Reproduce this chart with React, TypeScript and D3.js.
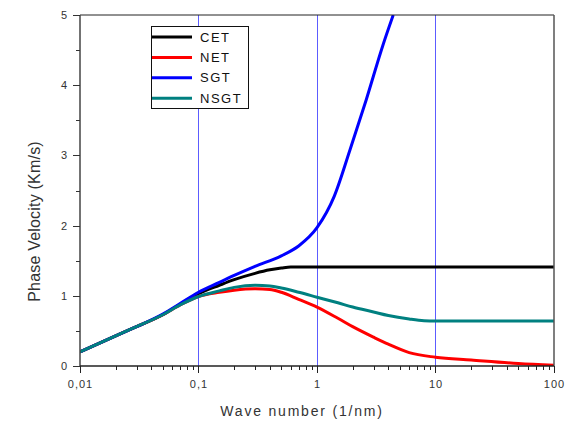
import React from "react";
import * as d3 from "d3";

// Dispersion curves: phase velocity (km/s) vs wave number (1/nm)
const seriesNames = ["CET", "NET", "SGT", "NSGT"];
const seriesColors = ["#000000", "#ff0000", "#0000ff", "#008080"];

const cet: [number, number][] = [
  [0.01, 0.2], [0.02, 0.43], [0.03, 0.56], [0.05, 0.73], [0.07, 0.88], [0.1, 1.03],
  [0.15, 1.15], [0.2, 1.23], [0.3, 1.32], [0.4, 1.37], [0.5, 1.395], [0.6, 1.41],
  [1, 1.41], [10, 1.41], [100, 1.41],
];
const net: [number, number][] = [
  [0.01, 0.2], [0.02, 0.43], [0.03, 0.56], [0.05, 0.73], [0.07, 0.87], [0.1, 0.99],
  [0.15, 1.05], [0.2, 1.08], [0.3, 1.1], [0.4, 1.09], [0.5, 1.05], [0.7, 0.95],
  [1, 0.84], [1.5, 0.68], [2, 0.56], [3, 0.41], [4, 0.31], [6, 0.19], [10, 0.125],
  [20, 0.085], [50, 0.035], [100, 0.01],
];
const sgt: [number, number][] = [
  [0.01, 0.2], [0.02, 0.43], [0.03, 0.56], [0.05, 0.74], [0.07, 0.89], [0.1, 1.05],
  [0.15, 1.19], [0.2, 1.29], [0.3, 1.42], [0.5, 1.57], [0.7, 1.71], [1, 1.97],
  [1.4, 2.42], [1.9, 3.08], [2.6, 3.79], [3.6, 4.57], [4.4, 5.0],
];
const nsgt: [number, number][] = [
  [0.01, 0.2], [0.02, 0.43], [0.03, 0.56], [0.05, 0.73], [0.07, 0.87], [0.1, 0.99],
  [0.15, 1.07], [0.2, 1.12], [0.3, 1.15], [0.4, 1.14], [0.5, 1.11], [0.7, 1.05],
  [1, 0.98], [1.5, 0.9], [2, 0.84], [3, 0.77], [4, 0.72], [6, 0.67], [8, 0.645],
  [10, 0.64], [100, 0.64],
];
const seriesData = [cet, net, sgt, nsgt];

const xTickValues = [0.01, 0.1, 1, 10, 100];
const xTickLabels = ["0,01", "0,1", "1", "10", "100"];
const yTickValues = [0, 1, 2, 3, 4, 5];
const gridValues = [0.1, 1, 10];

const W = 579;
const H = 421;
const left = 80;
const right = 554;
const top = 15;
const bottom = 366;

export default function App() {
  const x = d3.scaleLog().domain([0.01, 100]).range([left, right]);
  const y = d3.scaleLinear().domain([0, 5]).range([bottom, top]);
  const crisp = (v: number) => Math.round(v) + 0.5;

  const line = d3
    .line<[number, number]>()
    .x((d) => x(d[0]))
    .y((d) => y(d[1]))
    .curve(d3.curveMonotoneX);

  const minorX: number[] = [];
  for (let e = -2; e < 2; e++) {
    for (let m = 2; m <= 9; m++) minorX.push(m * Math.pow(10, e));
  }
  const minorY = d3.range(0.5, 5, 1);

  const font = "'Liberation Sans', Arial, sans-serif";

  return (
    <svg
      width={W}
      height={H}
      style={{ position: "absolute", left: 0, top: 0, background: "#fff" }}
      fontFamily={font}
    >
      <defs>
        <clipPath id="plot-clip">
          <rect x={left} y={top} width={right - left} height={bottom - top} />
        </clipPath>
      </defs>

      {/* vertical reference lines */}
      {gridValues.map((g) => (
        <line key={g} x1={crisp(x(g))} x2={crisp(x(g))} y1={top} y2={bottom} stroke="#5c5cff" strokeWidth={1} />
      ))}

      {/* curves */}
      <g clipPath="url(#plot-clip)">
        {seriesData.map((d, i) => (
          <path key={seriesNames[i]} d={line(d) || ""} fill="none" stroke={seriesColors[i]} strokeWidth={3} />
        ))}
      </g>

      {/* frame */}
      <line x1={left} x2={right} y1={top} y2={top} stroke="#222" strokeWidth={1} />
      <line x1={right} x2={right} y1={top} y2={bottom} stroke="#555" strokeWidth={1.5} />
      <line x1={left} x2={left} y1={top} y2={bottom + 0.5} stroke="#444" strokeWidth={1.5} />
      <line x1={left} x2={right} y1={bottom} y2={bottom} stroke="#222" strokeWidth={1.5} />

      {/* x ticks */}
      {xTickValues.map((v, i) => (
        <g key={v}>
          <line x1={crisp(x(v))} x2={crisp(x(v))} y1={bottom} y2={bottom + 7} stroke="#222" strokeWidth={1} />
          <text x={x(v) + 0.5} y={388} textAnchor="middle" fontSize={11} fill="#333" letterSpacing={1}>
            {xTickLabels[i]}
          </text>
        </g>
      ))}
      {minorX.map((v) => (
        <line key={v} x1={crisp(x(v))} x2={crisp(x(v))} y1={bottom} y2={bottom + 4} stroke="#222" strokeWidth={1} />
      ))}

      {/* y ticks */}
      {yTickValues.map((v) => (
        <g key={v}>
          <line x1={left - 7} x2={left} y1={crisp(y(v))} y2={crisp(y(v))} stroke="#333" strokeWidth={1} />
          <text x={67} y={y(v) + 4} textAnchor="end" fontSize={11} fill="#333">
            {v}
          </text>
        </g>
      ))}
      {minorY.map((v) => (
        <line key={v} x1={left - 4} x2={left} y1={crisp(y(v))} y2={crisp(y(v))} stroke="#333" strokeWidth={1} />
      ))}

      {/* axis titles */}
      <text x={302} y={416} textAnchor="middle" fontSize={14} fill="#333" letterSpacing={1.8}>
        Wave number (1/nm)
      </text>
      <text
        transform="translate(40, 221.5) rotate(-90)"
        textAnchor="middle"
        fontSize={16}
        fill="#333"
        letterSpacing={0.2}
      >
        Phase Velocity (Km/s)
      </text>

      {/* legend */}
      <rect x={151.5} y={26.5} width={97} height={82} fill="#fff" stroke="#111" strokeWidth={1} />
      {seriesNames.map((n, i) => {
        const cy = 37 + i * 20.4;
        return (
          <g key={n}>
            <line x1={152} x2={192} y1={cy} y2={cy} stroke={seriesColors[i]} strokeWidth={3} />
            <text x={200} y={cy + 4.5} fontSize={13} fill="#111" letterSpacing={1.5}>
              {n}
            </text>
          </g>
        );
      })}
    </svg>
  );
}
